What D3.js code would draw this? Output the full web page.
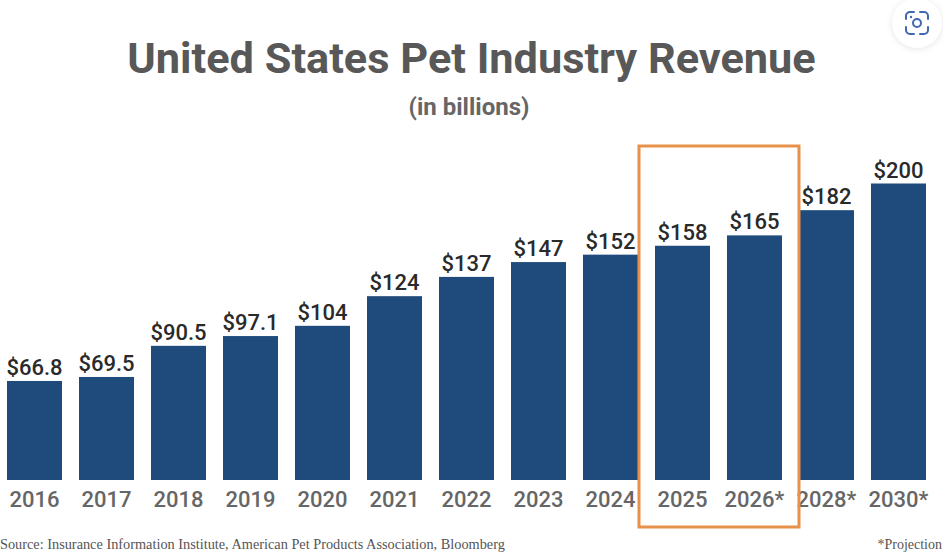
<!DOCTYPE html>
<html>
<head>
<meta charset="utf-8">
<script src="https://cdn.jsdelivr.net/npm/d3@7"></script>
<style>
  html, body { margin: 0; padding: 0; background: #fff; overflow: hidden; }
  text { font-family: Roboto, sans-serif; }
</style>
</head>
<body>
<svg id="chart"></svg>
<script>
const years = ["2016", "2017", "2018", "2019", "2020", "2021", "2022", "2023", "2024", "2025", "2026*", "2028*", "2030*"];
const revenue = [66.8, 69.5, 90.5, 97.1, 104, 124, 137, 147, 152, 158, 165, 182, 200];
const labels = ["$66.8", "$69.5", "$90.5", "$97.1", "$104", "$124", "$137", "$147", "$152", "$158", "$165", "$182", "$200"];
const highlighted = ["2025", "2026*"];

const width = 943, height = 555;
const baseline = 480, topY = 183.5;

const svg = d3.select("#chart").attr("width", width).attr("height", height);

const x = d3.scaleBand().domain(years).range([7, 926]).paddingInner(0.236);
const y = d3.scaleLinear().domain([0, 200]).range([baseline, topY]);

// title
svg.append("text")
    .attr("x", 471.5).attr("y", 73)
    .attr("text-anchor", "middle")
    .attr("font-size", 43.3).attr("font-weight", 700)
    .attr("fill", "#585858")
    .text("United States Pet Industry Revenue");

svg.append("text")
    .attr("x", 469).attr("y", 115)
    .attr("text-anchor", "middle")
    .attr("font-size", 24).attr("font-weight", 700)
    .attr("fill", "#666666")
    .text("(in billions)");

// bars
svg.append("g").selectAll("rect")
    .data(years)
    .join("rect")
    .attr("x", d => x(d))
    .attr("y", (d, i) => y(revenue[i]))
    .attr("width", x.bandwidth())
    .attr("height", (d, i) => baseline - y(revenue[i]))
    .attr("fill", "#1f4a7c");

// value labels
svg.append("g").selectAll("text")
    .data(years)
    .join("text")
    .attr("x", d => x(d) + x.bandwidth() / 2)
    .attr("y", (d, i) => y(revenue[i]) - 6)
    .attr("text-anchor", "middle")
    .attr("font-size", 22).attr("font-weight", 500)
    .attr("fill", "#2a2a2a")
    .text((d, i) => labels[i]);

// x axis, no line or ticks
const xAxis = svg.append("g")
    .attr("transform", `translate(0,${baseline})`)
    .call(d3.axisBottom(x).tickSize(0).tickPadding(11));
xAxis.select(".domain").remove();
xAxis.selectAll("text")
    .style("font-family", "Roboto, sans-serif")
    .attr("font-size", 22).attr("font-weight", 500)
    .attr("fill", "#666666");

// orange box round the highlighted years
const boxX0 = x(highlighted[0]) - 16;
const boxX1 = x(highlighted[1]) + x.bandwidth() + 17;
svg.append("rect")
    .attr("x", boxX0).attr("y", 146)
    .attr("width", boxX1 - boxX0).attr("height", 381)
    .attr("fill", "none")
    .attr("stroke", "#e8914a").attr("stroke-width", 3);

// footer
svg.append("text")
    .attr("x", 0).attr("y", 549)
    .style("font-family", "'Liberation Serif', serif")
    .attr("font-size", 14.3)
    .attr("fill", "#555555")
    .text("Source: Insurance Information Institute, American Pet Products Association, Bloomberg");

svg.append("text")
    .attr("x", 942).attr("y", 549)
    .attr("text-anchor", "end")
    .style("font-family", "'Liberation Serif', serif")
    .attr("font-size", 14)
    .attr("fill", "#555555")
    .text("*Projection");

// lens button, top right
const lens = svg.append("g").attr("transform", "translate(917,23)");
lens.append("circle").attr("r", 25).attr("fill", "#fff")
    .style("filter", "drop-shadow(0 1px 3px rgba(0,0,0,0.10))");
lens.append("path")
    .attr("d", "M-11,-4V-7A4,4 0 0 1 -7,-11H-3M3,-11H7A4,4 0 0 1 11,-7V-4M11,4V7A4,4 0 0 1 7,11H3M-3,11H-7A4,4 0 0 1 -11,7V4")
    .attr("fill", "none").attr("stroke", "#3f68b0").attr("stroke-width", 2).attr("stroke-linecap", "round");
lens.append("circle").attr("r", 4).attr("cy", 0).attr("fill", "none")
    .attr("stroke", "#3f68b0").attr("stroke-width", 2);
lens.append("circle").attr("cx", -6).attr("cy", -6).attr("r", 1.2).attr("fill", "#3f68b0");
</script>
</body>
</html>
